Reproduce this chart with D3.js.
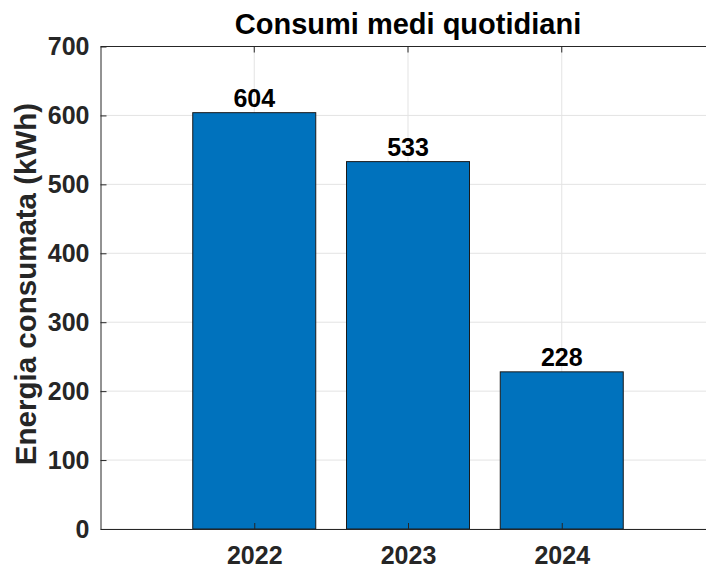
<!DOCTYPE html>
<html>
<head>
<meta charset="utf-8">
<script src="https://cdn.jsdelivr.net/npm/d3@7"></script>
<style>
  html, body { margin: 0; padding: 0; background: #fff; }
  svg { display: block; font-family: "Liberation Sans", Arial, Helvetica, sans-serif; }
</style>
</head>
<body>
<svg id="chart" width="706" height="568"></svg>
<script>
// Daily average consumption per year
const years = ["2022", "2023", "2024"];
const consumption = [604, 533, 228];
const yTicks = [0, 100, 200, 300, 400, 500, 600, 700];

const svg = d3.select("#chart");
const axisColor = "#262626";
const gridColor = "#e3e3e3";
const barColor = "#0072bd";

// Plot box (the right edge runs past the canvas)
const plotLeft = 100.5, plotTop = 46.5, plotBottom = 529;
const step = 153.75;

const x = d3.scaleLinear().domain([0, years.length + 1]).range([plotLeft, plotLeft + step * (years.length + 1)]);
const y = d3.scaleLinear().domain([0, 700]).range([plotBottom, plotTop]);
const barW = 0.8 * (x(1) - x(0));

// Grid lines
const grid = svg.append("g");
grid.selectAll("line.gy").data(yTicks).join("line")
  .attr("class", "gy")
  .attr("x1", plotLeft).attr("x2", x(years.length + 1))
  .attr("y1", d => y(d)).attr("y2", d => y(d))
  .attr("stroke", gridColor).attr("stroke-width", 1);
grid.selectAll("line.gx").data(years).join("line")
  .attr("class", "gx")
  .attr("x1", (d, i) => x(i + 1)).attr("x2", (d, i) => x(i + 1))
  .attr("y1", plotTop).attr("y2", plotBottom)
  .attr("stroke", gridColor).attr("stroke-width", 1);

// Bars
svg.append("g").selectAll("rect").data(consumption).join("rect")
  .attr("x", (d, i) => x(i + 1) - barW / 2)
  .attr("y", d => y(d))
  .attr("width", barW)
  .attr("height", d => y(0) - y(d))
  .attr("fill", barColor)
  .attr("stroke", "#1a1a1a")
  .attr("stroke-width", 1);

// Value labels above bars
svg.append("g").selectAll("text").data(consumption).join("text")
  .attr("x", (d, i) => x(i + 1))
  .attr("y", d => y(d) - 6)
  .attr("text-anchor", "middle")
  .attr("font-size", 25)
  .attr("font-weight", "bold")
  .attr("fill", "#000")
  .text(d => d);

// Y axis with inward ticks
const yAxis = d3.axisLeft(y).tickValues(yTicks).tickSizeInner(-6).tickSizeOuter(0).tickPadding(11);
const gy = svg.append("g").attr("transform", `translate(${plotLeft},0)`).call(yAxis);
gy.select(".domain").attr("stroke", axisColor);
gy.selectAll(".tick line").attr("stroke", axisColor);
gy.selectAll(".tick text").attr("fill", axisColor).attr("font-size", 25).attr("font-weight", "bold")
  .attr("font-family", "Liberation Sans, Arial, sans-serif");

// X axis with inward ticks
const xAxis = d3.axisBottom(x).tickValues(years.map((d, i) => i + 1))
  .tickFormat((d) => years[d - 1]).tickSizeInner(-6).tickSizeOuter(0).tickPadding(17);
const gx = svg.append("g").attr("transform", `translate(0,${plotBottom})`).call(xAxis);
gx.select(".domain").attr("stroke", axisColor);
gx.selectAll(".tick line").attr("stroke", axisColor);
gx.selectAll(".tick text").attr("fill", axisColor).attr("font-size", 25).attr("font-weight", "bold")
  .attr("font-family", "Liberation Sans, Arial, sans-serif");

// Top box edge with ticks
svg.append("line").attr("x1", plotLeft).attr("x2", x(years.length + 1))
  .attr("y1", plotTop).attr("y2", plotTop).attr("stroke", axisColor);
svg.append("g").selectAll("line").data(years).join("line")
  .attr("x1", (d, i) => x(i + 1)).attr("x2", (d, i) => x(i + 1))
  .attr("y1", plotTop).attr("y2", plotTop + 6).attr("stroke", axisColor);

// Title
svg.append("text")
  .attr("x", (plotLeft + x(years.length + 1)) / 2)
  .attr("y", 34)
  .attr("text-anchor", "middle")
  .attr("font-size", 29)
  .attr("font-weight", "bold")
  .attr("fill", "#000")
  .text("Consumi medi quotidiani");

// Y axis label
svg.append("text")
  .attr("transform", `translate(36,284) rotate(-90)`)
  .attr("text-anchor", "middle")
  .attr("font-size", 29.5)
  .attr("font-weight", "bold")
  .attr("fill", axisColor)
  .text("Energia consumata (kWh)");
</script>
</body>
</html>
